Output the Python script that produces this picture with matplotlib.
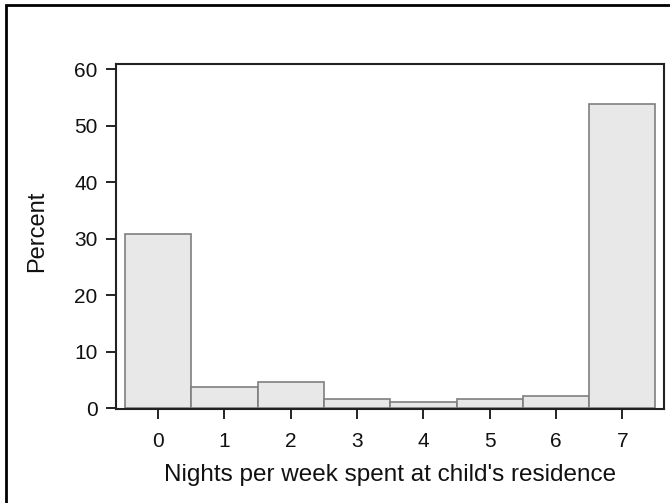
import numpy as np
import matplotlib.pyplot as plt
from matplotlib.patches import Rectangle

plt.rcParams['font.family'] = ['Liberation Sans', 'DejaVu Sans']

nights = [0, 1, 2, 3, 4, 5, 6, 7]
percent = [30.8, 3.8, 4.6, 1.7, 1.1, 1.6, 2.2, 53.8]
yticks = [0, 10, 20, 30, 40, 50, 60]

fig = plt.figure(figsize=(6.7, 5.03), dpi=100)
ax = fig.add_axes([0.1727, 0.1863, 0.8188, 0.6865])

ax.bar(nights, percent, width=1.0, color='#e8e8e8', edgecolor='#7f7f7f',
       linewidth=1.2, zorder=2)

ax.set_xlim(-0.638, 7.633)
ax.set_ylim(-0.18, 60.9)
ax.set_xticks(nights)
ax.set_yticks(yticks)
ax.tick_params(axis='both', direction='out', length=7, width=1.3,
               color='#111111', labelsize=15, labelcolor='#111111')
ax.tick_params(axis='x', pad=9)
ax.tick_params(axis='y', pad=6)
for s in ax.spines.values():
    s.set_linewidth(1.5)
    s.set_color('#222222')

ax.set_xlabel("Nights per week spent at child's residence", fontsize=17.5,
              color='#111111', labelpad=10)
ax.set_ylabel('Percent', fontsize=17, color='#111111')
ax.yaxis.set_label_coords(-0.124, 0.516)

# border around the whole graph, running off the right and bottom edges
fig.patches.append(Rectangle((6 / 670, -0.05), 1.2, 1 - 5 / 503 + 0.05,
                             transform=fig.transFigure, fill=False,
                             edgecolor='black', linewidth=2))

fig.savefig('out.png', dpi=100)
